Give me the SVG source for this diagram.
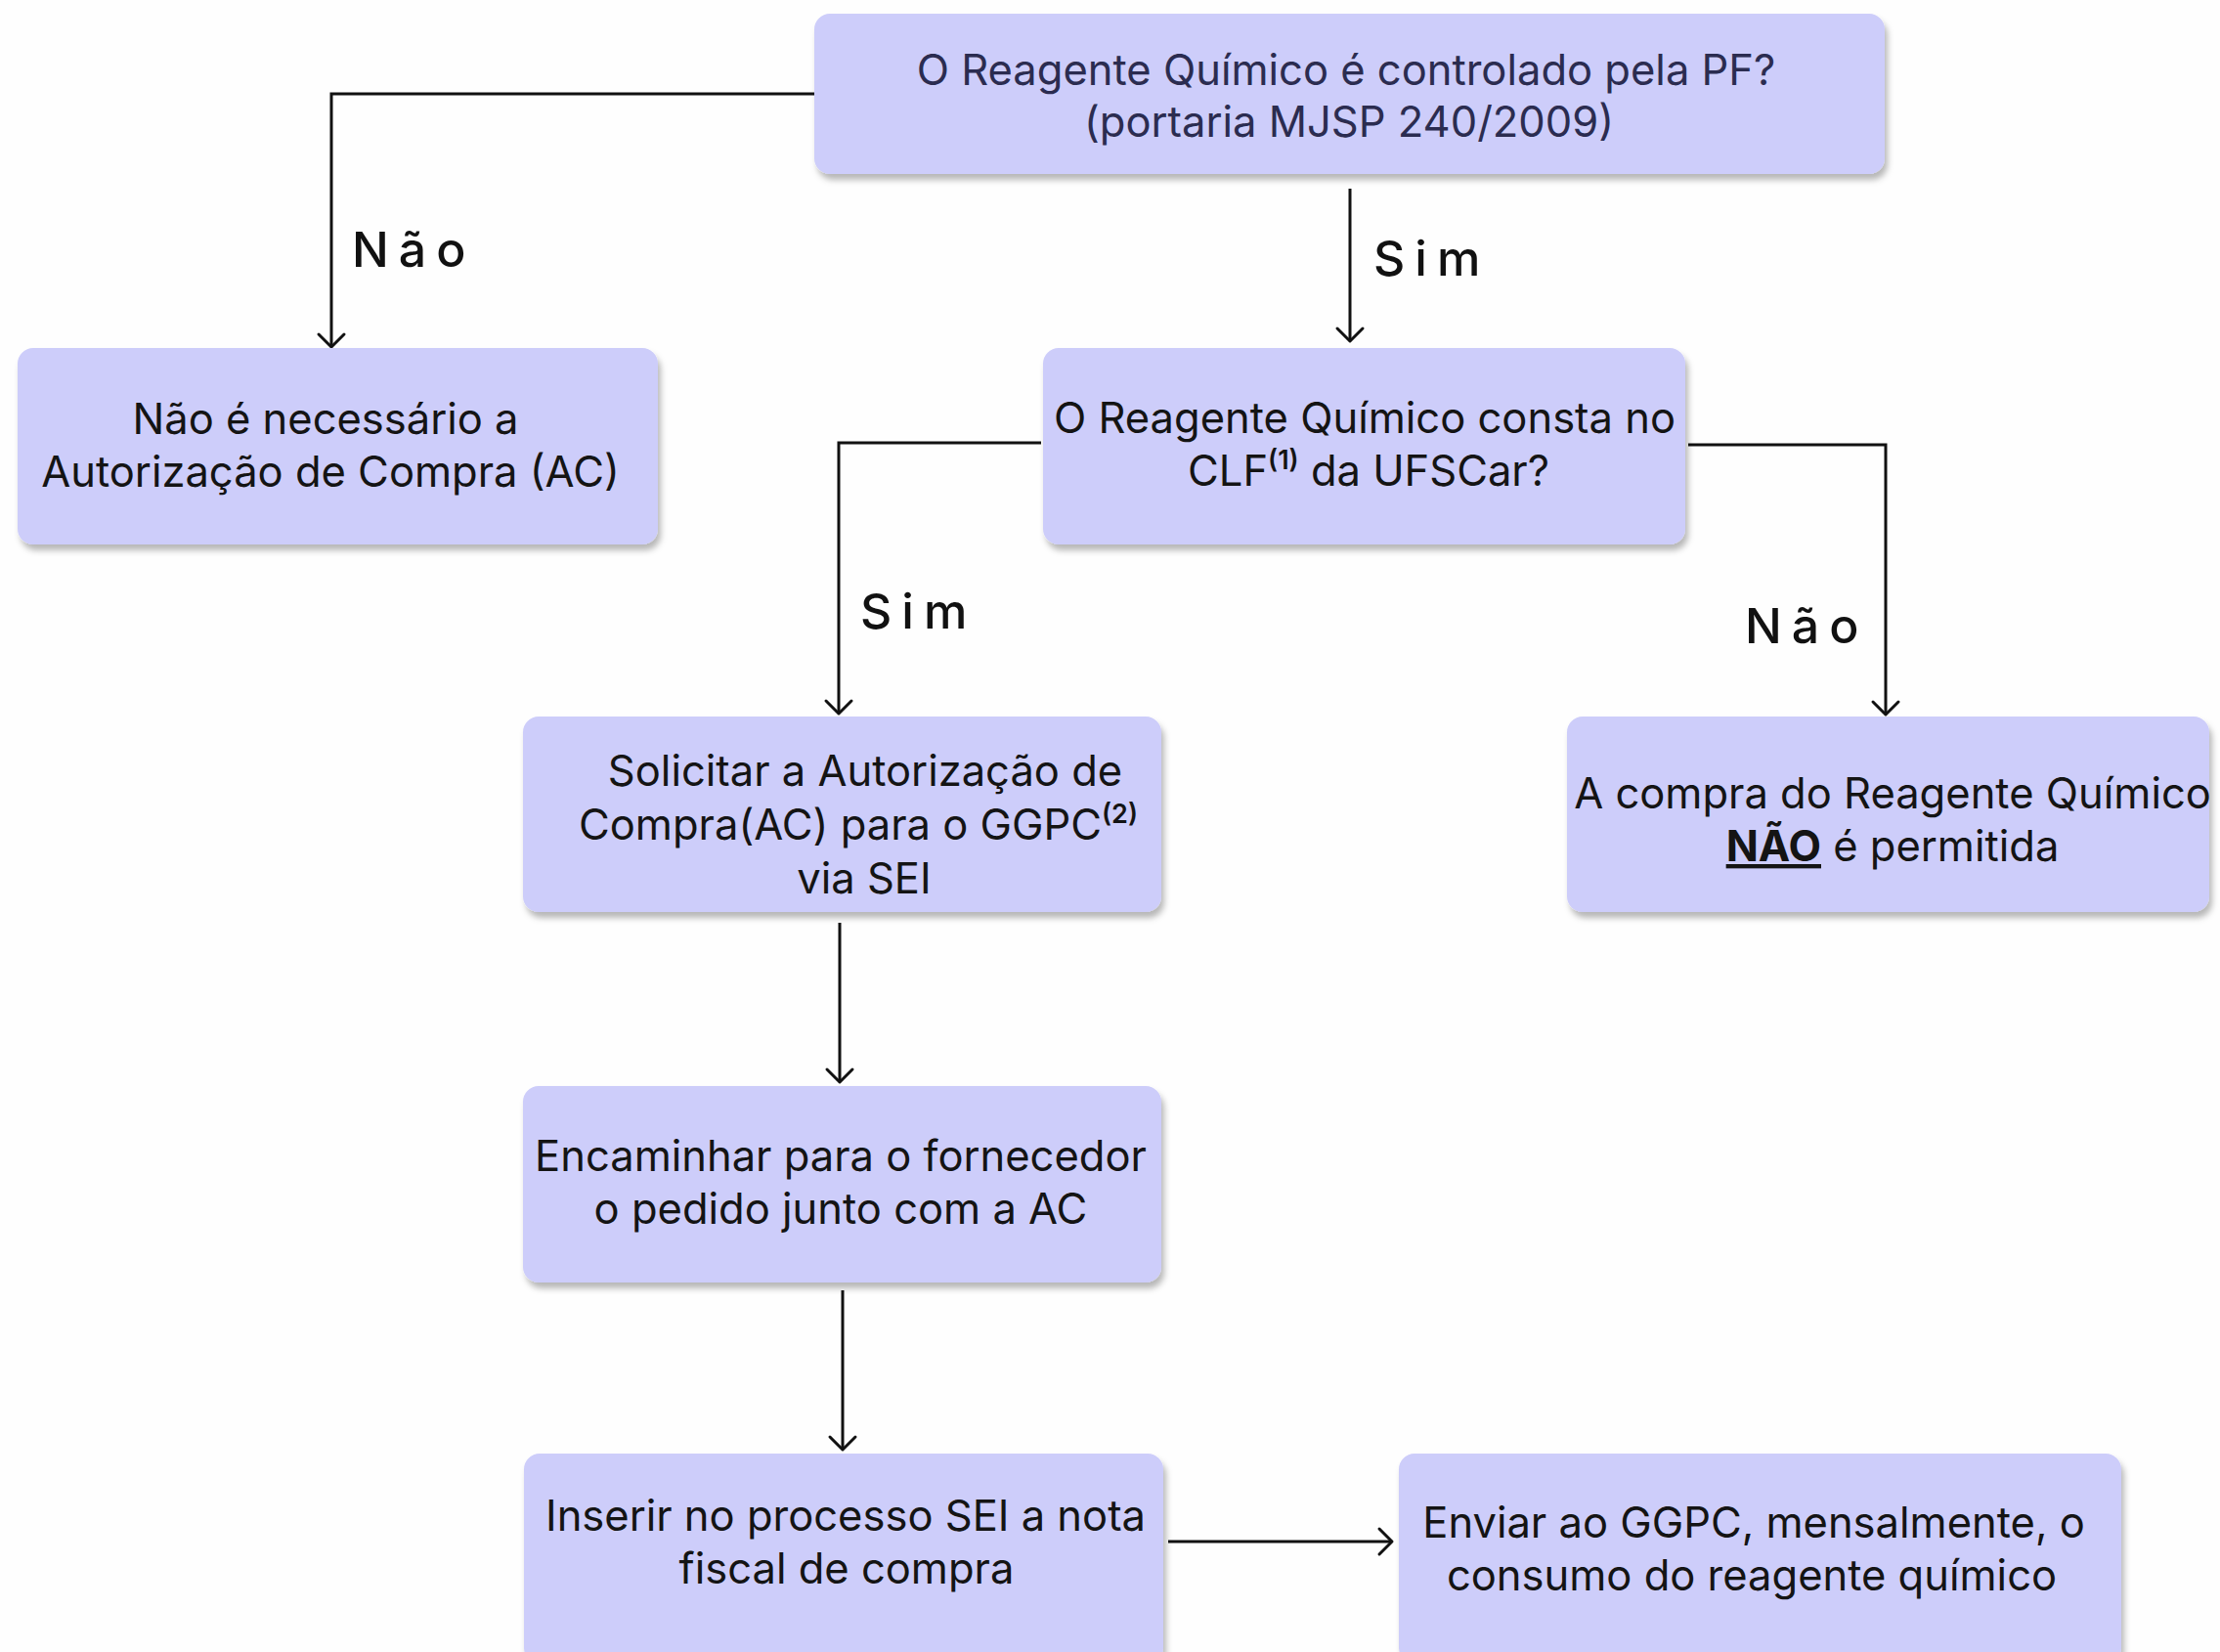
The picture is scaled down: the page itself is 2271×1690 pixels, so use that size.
<svg xmlns="http://www.w3.org/2000/svg" width="2271" height="1690" viewBox="0 0 2271 1690">
<style>
.box{fill:#cdcdfa;filter:url(#sh)}
.t{font-family:Inter,"Liberation Sans",sans-serif;font-size:43.5px;fill:#141414;text-anchor:middle}
.tq{fill:#2b2c50}
.sup{font-size:27px;font-weight:600}
.lbl{font-family:Inter,"Liberation Sans",sans-serif;font-size:50px;font-weight:500;fill:#111;letter-spacing:10px}
.c{fill:none;stroke:#111;stroke-width:3;marker-end:url(#arr)}
</style>
<defs>
<filter id="sh" x="-5%" y="-10%" width="110%" height="125%">
<feDropShadow dx="3" dy="6" stdDeviation="3" flood-color="#000" flood-opacity="0.28"/>
</filter>
<marker id="arr" markerUnits="userSpaceOnUse" markerWidth="32" markerHeight="32" viewBox="-16 -16 32 32" refX="0" refY="0" orient="auto">
<path d="M-13,-13 L0,0 L-13,13" fill="none" stroke="#111" stroke-width="3" stroke-linecap="round" stroke-linejoin="round"/>
</marker>
</defs>
<rect width="2271" height="1690" fill="#fefefe"/>

<g id="connectors">
<path class="c" d="M833,96 H339 V355"/>
<path class="c" d="M1381,193 V349"/>
<path class="c" d="M1065,453 H858 V730"/>
<path class="c" d="M1727,455 H1929 V731"/>
<path class="c" d="M859,944 V1107"/>
<path class="c" d="M862,1320 V1483"/>
<path class="c" d="M1195,1577 H1424"/>
<text class="lbl" x="360" y="273">Não</text>
<text class="lbl" x="1405" y="282">Sim</text>
<text class="lbl" x="880" y="643">Sim</text>
<text class="lbl" x="1785" y="658">Não</text>
</g>

<g id="n1">
<rect class="box" x="833" y="14" width="1095" height="164" rx="16"/>
<text class="t tq" x="1377" y="87">O Reagente Químico é controlado pela PF?</text>
<text class="t tq" x="1380" y="140">(portaria MJSP 240/2009)</text>
</g>

<g id="n2">
<rect class="box" x="18" y="356" width="655" height="201" rx="16"/>
<text class="t" x="333" y="444">Não é necessário a</text>
<text class="t" x="338" y="498">Autorização de Compra (AC)</text>
</g>

<g id="n3">
<rect class="box" x="1067" y="356" width="657" height="201" rx="16"/>
<text class="t" x="1396" y="443">O Reagente Químico consta no</text>
<text class="t" x="1400" y="497">CLF<tspan class="sup" dy="-17">(1)</tspan><tspan dy="17"> da UFSCar?</tspan></text>
</g>

<g id="n4">
<rect class="box" x="535" y="733" width="653" height="200" rx="16"/>
<text class="t" x="885" y="804">Solicitar a Autorização de</text>
<text class="t" x="878" y="859">Compra(AC) para o GGPC<tspan class="sup" dy="-17">(2)</tspan></text>
<text class="t" x="884" y="914">via SEI</text>
</g>

<g id="n5">
<rect class="box" x="1603" y="733" width="657" height="200" rx="16"/>
<text class="t" x="1936" y="827">A compra do Reagente Químico</text>
<text class="t" x="1936" y="881"><tspan font-weight="700" text-decoration="underline">NÃO</tspan> é permitida</text>
</g>

<g id="n6">
<rect class="box" x="535" y="1111" width="653" height="201" rx="16"/>
<text class="t" x="860" y="1198">Encaminhar para o fornecedor</text>
<text class="t" x="860" y="1252">o pedido junto com a AC</text>
</g>

<g id="n7">
<rect class="box" x="536" y="1487" width="654" height="215" rx="16"/>
<text class="t" x="865" y="1566">Inserir no processo SEI a nota</text>
<text class="t" x="866" y="1620">fiscal de compra</text>
</g>

<g id="n8">
<rect class="box" x="1431" y="1487" width="739" height="215" rx="16"/>
<text class="t" x="1794" y="1573">Enviar ao GGPC, mensalmente, o</text>
<text class="t" x="1792" y="1627">consumo do reagente químico</text>
</g>
</svg>
